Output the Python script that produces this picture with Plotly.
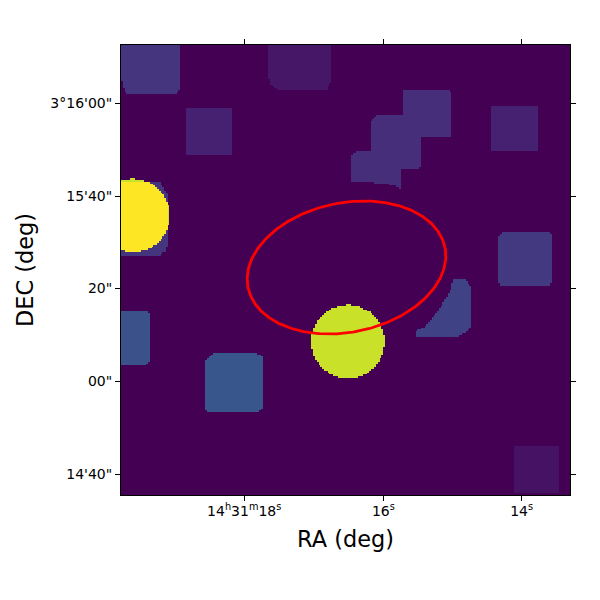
import numpy as np
import plotly.graph_objects as go

# Image plane units: 0-450 on both axes, sampled on a 250 x 250 pixel grid
IMAGE_SPAN = 450.0
IMAGE_PIXELS = 250

# Exposure footprints: (level, outline vertices in image units)
fp_top_left = (0.15, [(0,450),(59.5,450),(59.5,406.7),(55.5,400.7),(7.8,400.7),(3.5,405),(0.5,415),(0,415)])
fp_top_mid = (0.06, [(147.8,450),(210.5,450),(210.5,413.3),(206.2,405.7),(156.2,405.7),(151.2,408.3),(147.8,416.7)])
fp_upper = (0.09, [(64.5,386.7),(111.8,386.7),(111.8,340),(66.5,340),(64.5,342)])
fp_left = (0.15, [(0,314),(38,314),(47.5,300),(47.5,252),(44.5,244),(37.5,239),(0,239)])
fp_a = (0.13, [(281.8,404.3),(328.5,404.3),(330.5,402.5),(330.5,358.3),(281.8,358.3)])
fp_b = (0.13, [(250.5,373),(256.5,379),(301.5,379),(301.5,328),(297.5,326),(250.5,326)])
fp_c = (0.13, [(230.5,339),(235.5,343.3),(281.5,343.3),(281.5,306),(277.5,307.7),(271.2,310),(264.5,311),(252.5,312.5),(252.2,314),(230.5,314)])
fp_d = (0.09, [(370.5,389),(417.8,389),(417.8,343.7),(372.5,343.7),(370.5,346)])
fp_e = (0.17, [(378.5,258),(382.5,262.7),(429.5,262.7),(431.8,259),(431.8,213),(429.5,209.7),(380.5,209.7),(378.5,212)])
fp_f = (0.25, [(0,183.7),(25.5,183.7),(29.2,182),(29.2,134),(25.5,130.3),(0,130.3)])
fp_g = (0.27, [(84.5,135),(92.5,142),(136.5,142),(141.5,138),(141.5,87),(137.5,83),(86.5,83),(84.5,85)])
fp_crescent = (0.20, [(333.5,216.7),(344.5,216.7),(350.2,208.3),(350.2,168.3),(347.8,164.3),(336.2,158.3),(296.2,158.3),(293.5,162.3),(306.2,170),(319.5,186.7),(329.5,203.3)])
fp_corner = (0.05, [(394.5,49.3),(439.5,49.3),(439.5,2.3),(394.5,2.3)])
footprints = [fp_top_left, fp_top_mid, fp_upper, fp_left, fp_a, fp_b, fp_c, fp_d, fp_e, fp_f, fp_g, fp_crescent, fp_corner]

# Bright sources: (level, centre x, centre y, radius)
sources = [(0.92, 12.5, 279.5, 36.5), (0.92, 227.5, 153.3, 36.7)]

# Red aperture: centre x, centre y, semi-major, semi-minor, angle in degrees
aperture = (226.0, 227.5, 100.7, 64.7, 11.5)

x_tickvals = [123.5, 263, 401.5]
x_ticktext = ["14<sup>h</sup>31<sup>m</sup>18<sup>s</sup>", "16<sup>s</sup>", "14<sup>s</sup>"]
y_tickvals = [392, 299, 207, 114, 21]
y_ticktext = ["3°16'00\"", "15'40\"", "20\"", "00\"", "14'40\""]


def inside(px, py, verts):
    v = np.array(verts, dtype=float)
    x0, y0 = v[:, 0], v[:, 1]
    x1, y1 = np.roll(x0, -1), np.roll(y0, -1)
    result = np.zeros(px.shape, dtype=bool)
    for a, b, c, d in zip(x0, y0, x1, y1):
        if b == d:
            continue
        crosses = (b > py) != (d > py)
        result ^= crosses & (px < a + (py - b) * (c - a) / (d - b))
    return result


step = IMAGE_SPAN / IMAGE_PIXELS
cx = (np.arange(IMAGE_PIXELS) + 0.5) * step
gx, gy = np.meshgrid(cx, cx)
z = np.zeros(gx.shape)
for level, verts in footprints:
    z = np.where(inside(gx, gy, verts), np.maximum(z, level), z)
for level, sx, sy, r in sources:
    z = z + level * ((gx - sx) ** 2 + (gy - sy) ** 2 <= r ** 2)
z = np.minimum(z, 1.0)

ex, ey, ea, eb, eang = aperture
t = np.linspace(0, 2 * np.pi, 361)
th = np.radians(eang)
aperture_x = ex + ea * np.cos(t) * np.cos(th) - eb * np.sin(t) * np.sin(th)
aperture_y = ey + ea * np.cos(t) * np.sin(th) + eb * np.sin(t) * np.cos(th)

fig = go.Figure()
fig.add_trace(go.Heatmap(x=cx, y=cx, z=z, colorscale="Viridis", zmin=0, zmax=1,
                         showscale=False, hoverinfo="skip"))
fig.add_trace(go.Scatter(x=aperture_x, y=aperture_y, mode="lines",
                         line=dict(color="#ff0000", width=2.8), showlegend=False,
                         hoverinfo="skip"))

axis_common = dict(range=[0, IMAGE_SPAN], showgrid=False, zeroline=False, showline=True,
                   linecolor="black", linewidth=1, mirror="ticks", ticks="outside",
                   ticklen=5, tickwidth=1, tickcolor="black",
                   tickfont=dict(family="DejaVu Sans", size=14, color="black"))
fig.update_layout(
    width=592, height=592, autosize=False,
    margin=dict(l=112.5, r=29.5, t=37, b=105),
    paper_bgcolor="white", plot_bgcolor="#440154",
    font=dict(family="DejaVu Sans", color="black"),
    xaxis=dict(axis_common, tickmode="array", tickvals=x_tickvals, ticktext=x_ticktext,
               ticklabelstandoff=-2,
               title=dict(text="RA (deg)", font=dict(size=22.4), standoff=13)),
    yaxis=dict(axis_common, tickmode="array", tickvals=y_tickvals, ticktext=y_ticktext,
               title=dict(text="DEC (deg)", font=dict(size=22.4), standoff=10)),
)
fig.write_html("out.html")
